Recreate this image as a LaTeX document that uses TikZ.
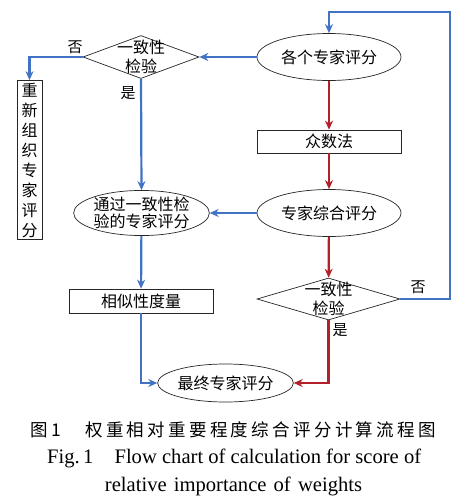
\documentclass[tikz,border=0pt]{standalone}
\usepackage{fontspec}
\setmainfont{Liberation Serif}
\newfontfamily\cjk{Noto Sans CJK SC}
\newfontfamily\cjkcap{Noto Sans CJK SC}[LetterSpace=19]
\usetikzlibrary{arrows.meta,shapes,positioning}
\definecolor{lineblue}{RGB}{66,114,196}
\definecolor{linered}{RGB}{180,32,42}
\tikzset{
  basic/.style  = {draw=black!85, line width=0.7pt, inner sep=0pt, align=center,
                   font=\cjk\fontsize{16}{17}\selectfont},
  oval/.style   = {basic, ellipse, minimum width=144pt, minimum height=47pt},
  box/.style    = {basic, rectangle, minimum width=144pt, minimum height=23pt},
  check/.style  = {basic, diamond, minimum width=116pt, minimum height=43pt},
  checktext/.style = {inner sep=0pt, align=center, font=\cjk\fontsize{16}{18.5}\selectfont},
  tag/.style    = {inner sep=0pt, font=\cjk\fontsize{15}{16}\selectfont},
  blueline/.style = {-{Stealth[length=9pt,width=8pt]}, draw=lineblue, line width=2.2pt},
  redline/.style  = {-{Stealth[length=9pt,width=8pt]}, draw=linered, line width=2.2pt}
}

\begin{document}
\begin{tikzpicture}[x=1pt, y=-1pt]
\useasboundingbox (0,0) rectangle (468,501);

% right column
\node[oval] (e1) at (329,57) {各个专家评分};
\node[box] (r1) at (329,141.5) {众数法};
\node[oval] (e3) at (329,213) {专家综合评分};
\node[check, minimum width=143pt, minimum height=42pt] (d2) at (328.5,299) {};
\node[checktext] (d2t) at (d2) {一致性\\检验};

% left column
\node[check] (d1) at (141,57) {};
\node[checktext] (d1t) at (d1) {一致性\\检验};
\node[basic, minimum width=25pt, minimum height=159pt, font=\cjk\fontsize{16}{20}\selectfont] (r2) at (29.5,160) {重\\新\\组\\织\\专\\家\\评\\分};
\node[oval, minimum width=131pt, minimum height=45pt] (e2) at (141.5,213) {通过一致性检\\验的专家评分};
\node[box, minimum height=24pt] (r3) at (141,301) {相似性度量};
\node[oval, minimum width=109pt, minimum height=38pt] (e4) at (225.5,383) {最终专家评分};

% labels
\node[tag] (n1) at (75,47) {否};
\node[tag] (y1) at (128,93) {是};
\node[tag] (n2) at (418,287) {否};
\node[tag] (y2) at (340,330) {是};

% connectors
\coordinate (c1) at (450,12);
\draw[redline] (e1) -- (r1);
\draw[redline] (r1) -- (e3);
\draw[redline] (e3) -- (d2);
\draw[redline] (d2.south) |- (e4.east);
\draw[blueline] (e1.west) -- (d1.east);
\draw[blueline] (d1.west) -| (r2.north);
\draw[blueline] (d1.south) -- (e2.north);
\draw[blueline] (e3.west) -- (e2.east);
\draw[blueline] (e2) -- (r3);
\draw[blueline] (r3.south) |- (e4.west);
\draw[blueline] (d2.east) -| (c1) -| (e1.north);

% caption
\node[font=\cjk\fontsize{17.5}{19}\selectfont, inner sep=0pt, anchor=west] (cap0) at (30,430) {图 1};
\node[font=\cjkcap\fontsize{17.5}{19}\selectfont, inner sep=0pt, anchor=west] (cap1) at (85,430) {权重相对重要程度综合评分计算流程图};
\node[font=\fontsize{20.6}{23}\selectfont, inner sep=0pt, anchor=west] (cap2) at (47,458) {Fig.\,1\hspace{21pt}Flow chart of calculation for score of};
\node[font=\fontsize{20.6}{23}\selectfont, inner sep=0pt] (cap3) at (233.5,486) {relative\hspace{2pt} importance\hspace{2pt} of\hspace{2pt} weights};
\end{tikzpicture}
\end{document}
